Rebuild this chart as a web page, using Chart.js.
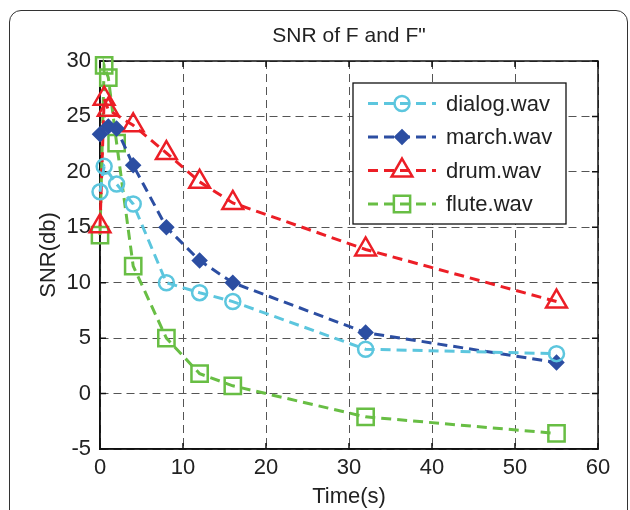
<!DOCTYPE html>
<html><head><meta charset="utf-8">
<script src="https://cdn.jsdelivr.net/npm/chart.js@4/dist/chart.umd.min.js"></script>
<style>
html,body{margin:0;padding:0;background:#fff;}
#wrap{position:relative;width:630px;height:510px;overflow:hidden;background:#fff;}
#frame{position:absolute;left:9px;top:10px;width:619px;height:560px;border:1.5px solid #333;border-radius:12px;box-sizing:border-box;}
canvas{position:absolute;left:0;top:0;}
</style></head><body>
<div id="wrap"><div id="frame"></div><canvas id="c" width="630" height="510"></canvas></div>
<script>
const chartTitle = 'SNR of F and F"';
const xTitle = 'Time(s)';
const yTitle = 'SNR(db)';
const seriesNames = ['dialog.wav', 'march.wav', 'drum.wav', 'flute.wav'];
const timeValues = [0, 0.5, 1, 2, 4, 8, 12, 16, 32, 55];
const dialogSNR = [18.2, 20.5, null, 18.9, 17.1, 10.0, 9.1, 8.3, 4.0, 3.6];
const marchSNR  = [23.4, null, 24.1, 23.9, 20.6, 15.0, 12.0, 10.0, 5.5, 2.8];
const drumSNR   = [15.1, 26.6, 25.6, null, 24.2, 21.7, 19.1, 17.2, 13.0, 8.3];
const fluteSNR  = [14.3, 29.6, 28.5, 22.6, 11.5, 5.0, 1.8, 0.7, -2.1, -3.6];
const xTicks = [0, 10, 20, 30, 40, 50, 60];
const yTicks = [-5, 0, 5, 10, 15, 20, 25, 30];

const FONT = 'Liberation Sans, Arial, sans-serif';
const colors = ['rgb(92,198,222)', 'rgb(44,78,162)', 'rgb(236,30,38)', 'rgb(104,190,68)'];
const styles = [
  {pointStyle: 'circle', radius: 7.5, fill: false},
  {pointStyle: 'rectRot', radius: 6.5, fill: true},
  {pointStyle: 'triangle', radius: 12, fill: false},
  {pointStyle: 'rect', radius: 11.5, fill: false}
];
const seriesValues = [dialogSNR, marchSNR, drumSNR, fluteSNR];

function toPoints(vals) {
  const pts = [];
  timeValues.forEach((t, i) => { if (vals[i] !== null) pts.push({x: t, y: vals[i]}); });
  return pts;
}

const datasets = seriesNames.map((name, i) => ({
  label: name,
  data: toPoints(seriesValues[i]),
  borderColor: colors[i],
  backgroundColor: styles[i].fill ? colors[i] : 'rgba(0,0,0,0)',
  borderWidth: 3,
  borderDash: [10, 6],
  pointStyle: styles[i].pointStyle,
  pointRadius: styles[i].radius,
  pointBorderWidth: 2.5,
  pointBorderColor: colors[i],
  pointBackgroundColor: styles[i].fill ? colors[i] : 'rgba(0,0,0,0)',
  tension: 0,
  spanGaps: true,
  clip: false,
  xAxisID: 'x', yAxisID: 'y'
}));

const boxPlugin = {
  id: 'boxTicks',
  beforeDatasetsDraw(chart) {
    const {ctx, chartArea: a, scales} = chart;
    ctx.save();
    ctx.strokeStyle = '#111';
    ctx.lineWidth = 1.5;
    ctx.setLineDash([]);
    ctx.strokeRect(a.left, a.top, a.right - a.left, a.bottom - a.top);
    const L = 6;
    ctx.beginPath();
    xTicks.forEach(v => {
      const px = scales.x.getPixelForValue(v);
      ctx.moveTo(px, a.bottom); ctx.lineTo(px, a.bottom - L);
      ctx.moveTo(px, a.top); ctx.lineTo(px, a.top + L);
    });
    yTicks.forEach(v => {
      const py = scales.y.getPixelForValue(v);
      ctx.moveTo(a.left, py); ctx.lineTo(a.left + L, py);
      ctx.moveTo(a.right, py); ctx.lineTo(a.right - L, py);
    });
    ctx.stroke();
    ctx.restore();
  }
};

const legendPlugin = {
  id: 'innerLegend',
  afterDatasetsDraw(chart) {
    const {ctx, chartArea: a} = chart;
    const w = 213, h = 141;
    const x0 = a.right - 32 - w, y0 = a.top + 22;
    ctx.save();
    ctx.fillStyle = '#fff';
    ctx.fillRect(x0, y0, w, h);
    ctx.strokeStyle = '#111';
    ctx.lineWidth = 1.3;
    ctx.setLineDash([]);
    ctx.strokeRect(x0, y0, w, h);
    chart.data.datasets.forEach((ds, i) => {
      const y = y0 + 20.5 + i * 33.5;
      ctx.strokeStyle = ds.borderColor;
      ctx.lineWidth = 3;
      ctx.setLineDash([10, 6]);
      ctx.beginPath();
      ctx.moveTo(x0 + 15, y); ctx.lineTo(x0 + 83, y);
      ctx.stroke();
      ctx.setLineDash([]);
      ctx.lineWidth = 2.5;
      ctx.fillStyle = ds.pointBackgroundColor;
      ctx.strokeStyle = ds.pointBorderColor;
      Chart.helpers.drawPoint(ctx, {pointStyle: ds.pointStyle, radius: ds.pointRadius, rotation: 0, borderWidth: 2.5}, x0 + 49, y);
      ctx.fillStyle = '#222';
      ctx.font = '22px ' + FONT;
      ctx.textBaseline = 'middle';
      ctx.textAlign = 'left';
      ctx.fillText(ds.label, x0 + 93, y + 1);
    });
    ctx.restore();
  }
};

new Chart(document.getElementById('c'), {
  type: 'line',
  data: {datasets},
  options: {
    responsive: false,
    animation: false,
    devicePixelRatio: 1,
    layout: {padding: {left: 0, right: 32, top: 0, bottom: 0}},
    plugins: {legend: {display: false}, title: {display: false}, tooltip: {enabled: false}},
    scales: {
      x: {
        type: 'linear', position: 'bottom', min: 0, max: 60,
        afterBuildTicks: s => { s.ticks = xTicks.map(v => ({value: v})); },
        afterFit: s => { s.height = 61; },
        ticks: {font: {family: FONT, size: 22}, color: '#222', padding: 6, maxRotation: 0},
        grid: {color: '#555', lineWidth: 1, drawTicks: false},
        border: {display: true, color: '#111', width: 1.5, dash: [8, 5]},
        title: {display: true, text: xTitle, font: {family: FONT, size: 22}, color: '#222', padding: {top: 0, bottom: 0}}
      },
      xTop: {
        type: 'linear', position: 'top', min: 0, max: 60,
        afterFit: s => { s.height = 61; },
        ticks: {display: false},
        grid: {display: false, drawTicks: false},
        border: {display: false},
        title: {display: true, text: chartTitle, font: {family: FONT, size: 21}, color: '#222', padding: {top: 24, bottom: 0}}
      },
      y: {
        type: 'linear', position: 'left', min: -5, max: 30,
        afterBuildTicks: s => { s.ticks = yTicks.map(v => ({value: v})); },
        afterFit: s => { s.width = 100; },
        ticks: {font: {family: FONT, size: 22}, color: '#222', padding: 9},
        grid: {color: '#555', lineWidth: 1, drawTicks: false},
        border: {display: true, color: '#111', width: 1.5, dash: [8, 5]},
        title: {display: true, text: yTitle, font: {family: FONT, size: 22}, color: '#222', padding: {top: 36, bottom: 0}}
      }
    }
  },
  plugins: [boxPlugin, legendPlugin]
});
</script>
</body></html>
